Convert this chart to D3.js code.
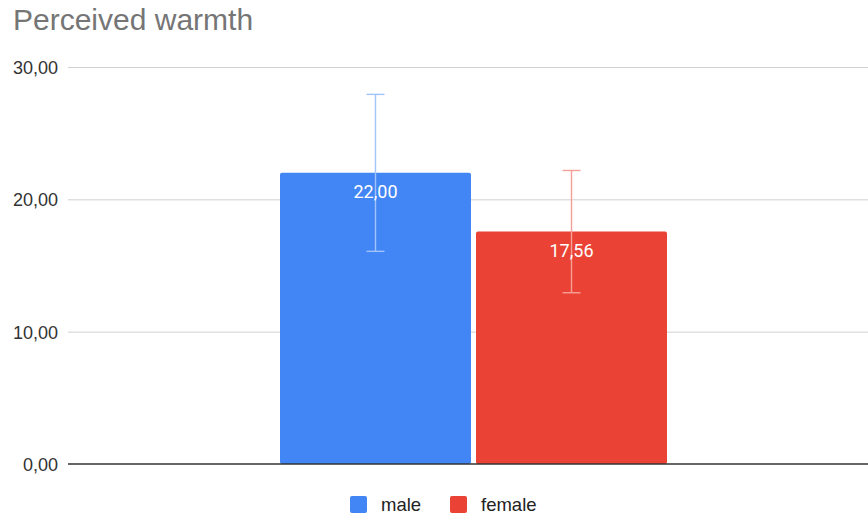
<!DOCTYPE html>
<html>
<head>
<meta charset="utf-8">
<script src="https://cdn.jsdelivr.net/npm/d3@7"></script>
<style>
  body { margin: 0; background: #fff; }
  svg { display: block; font-family: 'Liberation Sans', Arial, sans-serif; }
</style>
</head>
<body>
<div id="chart"></div>
<script>
const categories = ['male', 'female']
const values = [22.00, 17.56]
const errors = [5.93, 4.62]
const colors = ['#4285f4', '#ea4335']
const errorColors = ['#a0c4fa', '#f4a098']
const yTicks = [0, 10, 20, 30]

const width = 868
const height = 514
const marginTop = 67
const marginBottom = 50
const marginLeft = 79
const gridLeft = 68

const fmt = v => d3.format('.2f')(v).replace('.', ',')

const x = d3.scaleBand()
  .domain(categories)
  .range([marginLeft, width])
  .paddingInner(0.0255)
  .paddingOuter(1.0255)

const y = d3.scaleLinear()
  .domain([0, 30])
  .range([height - marginBottom, marginTop])

const svg = d3.select('#chart').append('svg')
  .attr('width', width)
  .attr('height', height)
  .attr('viewBox', [0, 0, width, height])

svg.append('text')
  .attr('x', 13)
  .attr('y', 30)
  .attr('font-size', 30)
  .attr('fill', '#757575')
  .text('Perceived warmth')

const yAxis = d3.axisLeft(y).tickValues(yTicks).tickFormat(fmt).tickSize(0).tickPadding(10)

svg.append('g')
  .attr('transform', `translate(${gridLeft}, 0)`)
  .call(yAxis)
  .call(g => g.select('.domain').remove())
  .call(g => g.selectAll('.tick text')
    .attr('font-family', "'Liberation Sans', Arial, sans-serif")
    .attr('font-size', 18)
    .attr('dy', '0.36em')
    .attr('fill', '#333'))
  .call(g => g.selectAll('.tick line')
    .attr('stroke', d => d === 0 ? 'none' : '#d0d0d0')
    .attr('x2', width - gridLeft))

const bars = svg.append('g')
  .selectAll('g')
  .data(categories)
  .join('g')

bars.append('rect')
  .attr('x', d => x(d))
  .attr('y', (d, i) => y(values[i]))
  .attr('width', x.bandwidth())
  .attr('height', (d, i) => y(0) - y(values[i]))
  .attr('rx', 2)
  .attr('fill', (d, i) => colors[i])

const cx = d => x(d) + x.bandwidth() / 2
const cap = 9

bars.append('line')
  .attr('x1', cx).attr('x2', cx)
  .attr('y1', (d, i) => y(values[i] + errors[i]))
  .attr('y2', (d, i) => y(values[i] - errors[i]))
  .attr('stroke', (d, i) => errorColors[i])
  .attr('stroke-width', 1.4)

bars.selectAll('line.cap')
  .data((d, i) => [values[i] + errors[i], values[i] - errors[i]].map(v => ({ d, i, v })))
  .join('line')
  .attr('class', 'cap')
  .attr('x1', o => cx(o.d) - cap)
  .attr('x2', o => cx(o.d) + cap)
  .attr('y1', o => y(o.v))
  .attr('y2', o => y(o.v))
  .attr('stroke', o => errorColors[o.i])
  .attr('stroke-width', 1.4)

bars.append('text')
  .attr('x', cx)
  .attr('y', (d, i) => y(values[i]) + 25)
  .attr('text-anchor', 'middle')
  .attr('font-family', 'Roboto, Arial, sans-serif')
  .attr('font-size', 18)
  .attr('fill', '#fff')
  .text((d, i) => fmt(values[i]))

svg.append('line')
  .attr('x1', gridLeft)
  .attr('x2', width)
  .attr('y1', y(0))
  .attr('y2', y(0))
  .attr('stroke', '#333')
  .attr('stroke-width', 1.3)

const legend = svg.append('g')
  .attr('transform', `translate(350, ${height - 18})`)

const legendOffsets = [0, 100]

const item = legend.selectAll('g')
  .data(categories)
  .join('g')
  .attr('transform', (d, i) => `translate(${legendOffsets[i]}, 0)`)

item.append('rect')
  .attr('y', 0)
  .attr('width', 17)
  .attr('height', 17)
  .attr('rx', 2)
  .attr('fill', (d, i) => colors[i])

item.append('text')
  .attr('x', 31)
  .attr('y', 15)
  .attr('font-size', 18.5)
  .attr('fill', '#222')
  .text(d => d)
</script>
</body>
</html>
